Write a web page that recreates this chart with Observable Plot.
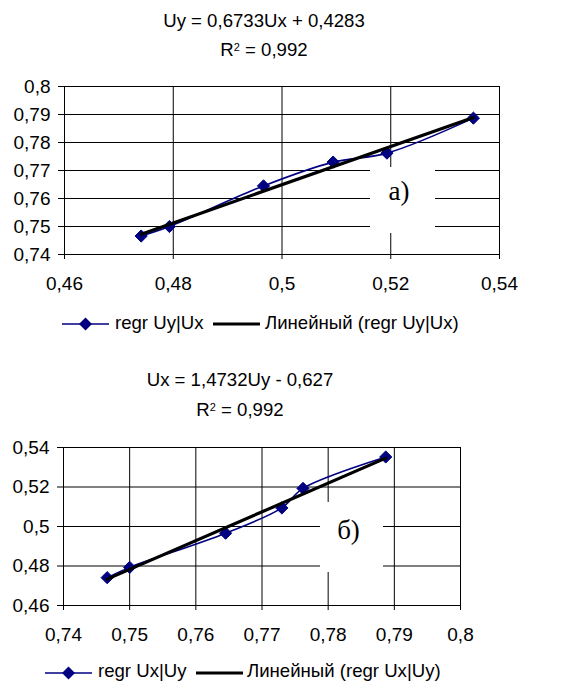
<!DOCTYPE html>
<html><head><meta charset="utf-8">
<script src="https://cdn.jsdelivr.net/npm/d3@7"></script>
<script src="https://cdn.jsdelivr.net/npm/@observablehq/plot@0.6"></script>
<style>
body{margin:0;background:#fff;}
#root{position:relative;width:566px;height:682px;overflow:hidden;font-family:"Liberation Sans",Arial,sans-serif;color:#000;background:#fff;}
.abs{position:absolute;line-height:1;white-space:nowrap;font-size:18.6px;}
.ctr{text-align:center;left:0;}
.sup{font-size:11px;position:relative;top:-5px;}
.box{position:absolute;background:#fff;}
.lbl{position:absolute;font-family:"Liberation Serif","Times New Roman",serif;font-size:27px;line-height:1;text-align:center;width:60px;white-space:nowrap;}
.sw{position:absolute;}
</style></head><body><div id="root"></div>
<script>
// Data
const ux = [0.4741, 0.4793, 0.4966, 0.5094, 0.5193, 0.5352];
const uy = [0.7466, 0.7500, 0.7645, 0.7730, 0.7762, 0.7887];

const xTicksA = [0.46, 0.48, 0.5, 0.52, 0.54];
const yTicksA = [0.74, 0.75, 0.76, 0.77, 0.78, 0.79, 0.8];
const xTicksB = [0.74, 0.75, 0.76, 0.77, 0.78, 0.79, 0.8];
const yTicksB = [0.46, 0.48, 0.5, 0.52, 0.54];

const eqA = "Uy = 0,6733Ux + 0,4283";
const eqB = "Ux = 1,4732Uy - 0,627";
const r2A = " = 0,992";
const r2B = " = 0,992";
const seriesA = "regr Uy|Ux";
const trendA = "Линейный (regr Uy|Ux)";
const seriesB = "regr Ux|Uy";
const trendB = "Линейный (regr Ux|Uy)";
const tagA = "а)";
const tagB = "б)";

const dataA = ux.map((v, i) => ({x: v, y: uy[i]}));
const dataB = uy.map((v, i) => ({x: v, y: ux[i]}));

const fmt = d => String(d).replace(".", ",");
const NAVY = "#000080";

function chart(data, xT, yT, dims) {
  return Plot.plot({
    width: 566,
    height: dims.height,
    marginTop: dims.mt, marginBottom: dims.mb, marginLeft: dims.ml, marginRight: dims.mr,
    style: {fontFamily: "Liberation Sans, Arial, sans-serif", fontSize: "19px", color: "black", background: "transparent", overflow: "visible"},
    x: {domain: [xT[0], xT[xT.length - 1]], ticks: xT, tickFormat: fmt, tickSize: 5, tickPadding: 17, label: null},
    y: {domain: [yT[0], yT[yT.length - 1]], ticks: yT, tickFormat: fmt, tickSize: 6, tickPadding: 8, label: null},
    marks: [
      Plot.ruleX(xT, {stroke: "black", strokeWidth: 1}),
      Plot.ruleY(yT, {stroke: "black", strokeWidth: 1}),
      Plot.frame({stroke: "black"}),
      Plot.line(data, {x: "x", y: "y", stroke: NAVY, strokeWidth: 1.6, curve: "catmull-rom"}),
      Plot.dot(data, {x: "x", y: "y", symbol: "diamond2", r: 5.5, fill: NAVY, stroke: NAVY, strokeWidth: 1}),
      Plot.linearRegressionY(data, {x: "x", y: "y", ci: 0, stroke: "black", strokeWidth: 3.2})
    ]
  });
}

const root = document.getElementById("root");
function add(el, css) { Object.assign(el.style, css); root.appendChild(el); return el; }
function div(cls, html, css) { const d = document.createElement("div"); d.className = cls; d.innerHTML = html; return add(d, css); }

const svgA = chart(dataA, xTicksA, yTicksA, {height: 232, mt: 16, mb: 48, ml: 64, mr: 67});
add(svgA, {position: "absolute", left: "0px", top: "70px"});
const svgB = chart(dataB, xTicksB, yTicksB, {height: 215, mt: 17, mb: 40, ml: 63, mr: 106});
add(svgB, {position: "absolute", left: "0px", top: "430px"});

// Titles
div("abs ctr", eqA, {top: "11.8px", width: "528px"});
div("abs ctr", 'R<span class="sup">2</span>' + r2A, {top: "41.3px", width: "528px"});
div("abs ctr", eqB, {top: "371.3px", width: "480px"});
div("abs ctr", 'R<span class="sup">2</span>' + r2B, {top: "400.8px", width: "480px"});

// Panel tags
div("box", "", {left: "370px", top: "167px", width: "65px", height: "66px"});
div("lbl", tagA, {left: "369px", top: "178.4px"});
div("box", "", {left: "320px", top: "502px", width: "63px", height: "70px"});
div("lbl", tagB, {left: "318.5px", top: "517.4px"});

// Legends
function swatch(left, cy, series) {
  const w = 47;
  const s = series
    ? `<svg width="${w}" height="16"><line x1="0" x2="${w}" y1="8" y2="8" stroke="${NAVY}" stroke-width="1.6"/><path d="M${w/2},1.5L${w/2+6.5},8L${w/2},14.5L${w/2-6.5},8Z" fill="${NAVY}"/></svg>`
    : `<svg width="${w}" height="16"><line x1="0" x2="${w}" y1="8" y2="8" stroke="black" stroke-width="3.2"/></svg>`;
  const d = document.createElement("div");
  d.className = "sw"; d.innerHTML = s;
  add(d, {left: left + "px", top: (cy - 8) + "px", height: "16px", lineHeight: "0"});
}
swatch(62, 324.3, true);
div("abs", seriesA, {left: "115px", top: "313.8px"});
swatch(213, 324.3, false);
div("abs", trendA, {left: "265px", top: "313.8px"});

swatch(45, 672.7, true);
div("abs", seriesB, {left: "98px", top: "661.6px"});
swatch(196, 672.7, false);
div("abs", trendB, {left: "247px", top: "661.6px"});
</script></body></html>
